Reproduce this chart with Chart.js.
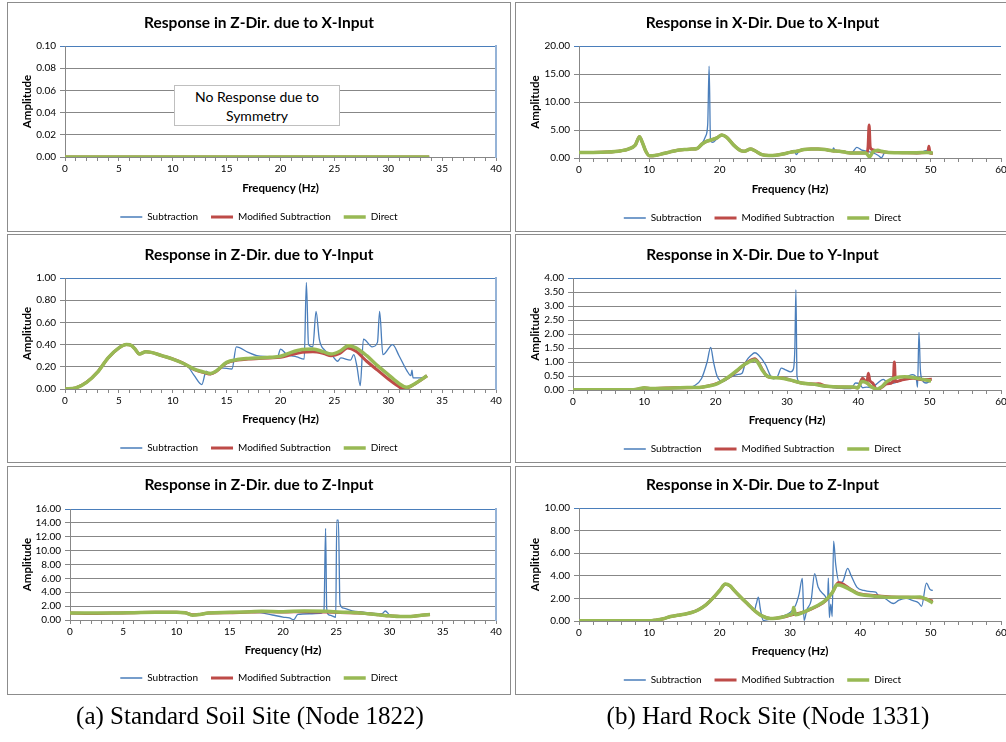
<!DOCTYPE html>
<html>
<head>
<meta charset="utf-8">
<script src="https://cdn.jsdelivr.net/npm/chart.js@4.4.1/dist/chart.umd.min.js"></script>
<style>
  html, body { margin: 0; padding: 0; background: #fff; width: 1006px; height: 742px; overflow: hidden; position: relative; }
  .panel { position: absolute; border: 1px solid #8c8c8c; box-sizing: border-box; background: #fff; }
  canvas { position: absolute; }
  .note { position: absolute; left: 174px; top: 85px; width: 166px; height: 41px; box-sizing: border-box;
          border: 1px solid #bfbfbf; background: #fff; font: 14px Lato, sans-serif; color: #000;
          text-align: center; line-height: 19px; padding-top: 1px; }
  .caption { position: absolute; top: 702px; font: 25px "Liberation Serif", serif; color: #000; white-space: nowrap; transform: translateX(-50%); }
</style>
</head>
<body>
<div class="panel" style="left:7px;top:2px;width:504px;height:230px"></div>
<div class="panel" style="left:515px;top:2px;width:495px;height:230px"></div>
<div class="panel" style="left:7px;top:234px;width:504px;height:229px"></div>
<div class="panel" style="left:515px;top:234px;width:495px;height:229px"></div>
<div class="panel" style="left:7px;top:466px;width:504px;height:229px"></div>
<div class="panel" style="left:515px;top:466px;width:495px;height:229px"></div>

<script>
// ---- data ----
const seriesNames = ['Subtraction', 'Modified Subtraction', 'Direct'];

// (a) Z-Dir due to X-Input: no response
const zxFreq = [0, 10, 20, 33.8];
const zxSub = [0, 0, 0, 0];
const zxMod = [0, 0, 0, 0];
const zxDir = [0, 0, 0, 0];

// (a) Z-Dir due to Y-Input
const zyDirFreq = [0, 1, 2, 3, 4, 5, 5.7, 6.2, 6.5, 6.9, 7.5, 8, 9, 10, 11, 12, 13, 13.5, 14, 15, 16, 17, 18, 19, 20, 21, 22, 23, 24, 24.7, 25.5, 26.3, 27, 28, 29, 30, 31, 31.7, 32.5, 33.6];
const zyDir = [0, 0.01, 0.06, 0.15, 0.28, 0.37, 0.40, 0.39, 0.36, 0.315, 0.335, 0.33, 0.30, 0.27, 0.23, 0.18, 0.15, 0.14, 0.16, 0.24, 0.265, 0.275, 0.28, 0.285, 0.295, 0.33, 0.355, 0.36, 0.335, 0.315, 0.34, 0.39, 0.37, 0.30, 0.21, 0.13, 0.05, 0.015, 0.05, 0.12];
const zyModFreq = [0, 1, 2, 3, 4, 5, 5.7, 6.2, 6.5, 6.9, 7.5, 8, 9, 10, 11, 12, 13, 13.5, 14, 15, 16, 17, 18, 19, 20, 21, 22, 23, 24, 24.7, 25.5, 26.2, 27, 28, 29, 30, 31, 31.3, 32, 33, 33.6];
const zyMod = [0, 0.01, 0.06, 0.15, 0.28, 0.37, 0.40, 0.39, 0.36, 0.315, 0.335, 0.33, 0.30, 0.27, 0.23, 0.175, 0.145, 0.135, 0.155, 0.235, 0.26, 0.27, 0.275, 0.28, 0.285, 0.31, 0.33, 0.335, 0.32, 0.30, 0.32, 0.37, 0.34, 0.25, 0.17, 0.09, 0.02, 0.003, 0.02, 0.08, 0.12];
const zySubFreq = [0, 1, 2, 3, 4, 5, 5.7, 6.2, 6.5, 6.9, 7.5, 8, 9, 10, 11, 11.5, 12, 12.7, 13.1, 13.5, 14.5, 15.5, 15.9, 17, 17.8, 19, 19.7, 20, 20.6, 21.5, 22.2, 22.4, 22.6, 23, 23.3, 23.6, 24.1, 24.8, 25.3, 25.6, 26.5, 26.8, 27.1, 27.4, 27.7, 28.5, 29.0, 29.2, 29.5, 30.4, 31.0, 31.7, 32.1, 32.2, 32.3, 33.0, 33.6];
const zySub = [0, 0.01, 0.06, 0.15, 0.28, 0.37, 0.40, 0.39, 0.36, 0.315, 0.335, 0.33, 0.30, 0.27, 0.23, 0.19, 0.12, 0.04, 0.16, 0.13, 0.19, 0.18, 0.38, 0.33, 0.30, 0.29, 0.28, 0.36, 0.31, 0.29, 0.27, 0.96, 0.40, 0.38, 0.70, 0.45, 0.35, 0.30, 0.25, 0.28, 0.26, 0.31, 0.20, 0.03, 0.45, 0.38, 0.42, 0.70, 0.31, 0.40, 0.30, 0.17, 0.12, 0.17, 0.10, 0.10, 0.12];

// (a) Z-Dir due to Z-Input
const zzFreq = [0, 2, 4, 6, 8, 10, 10.8, 11.5, 12.2, 13, 15, 17, 18, 20, 22, 24, 26, 27, 28, 29, 30, 31, 32, 33, 33.8];
const zzDir = [1.0, 1.0, 1.0, 1.05, 1.1, 1.1, 1.05, 0.7, 0.8, 1.0, 1.1, 1.2, 1.25, 1.2, 1.3, 1.25, 1.1, 1.05, 0.9, 0.75, 0.6, 0.5, 0.5, 0.7, 0.8];
const zzMod = [1.0, 0.95, 1.0, 1.05, 1.1, 1.1, 1.05, 0.75, 0.8, 1.0, 1.05, 1.15, 1.2, 1.15, 1.2, 1.15, 1.05, 1.0, 0.9, 0.75, 0.6, 0.5, 0.5, 0.7, 0.8];
const zzSubFreq = [0, 2, 4, 6, 8, 10, 10.8, 11.5, 12.2, 13, 15, 17, 17.8, 19, 20, 20.6, 21.0, 21.4, 22.5, 23.5, 23.85, 24.0, 24.1, 24.25, 24.6, 24.95, 25.05, 25.2, 25.35, 25.7, 26.5, 27.5, 28.5, 29.3, 29.6, 30, 31, 32, 33, 33.8];
const zzSub = [1.0, 1.0, 1.0, 1.05, 1.1, 1.1, 1.05, 0.7, 0.8, 1.0, 1.1, 1.1, 1.06, 0.72, 0.43, 0.3, 0.05, 0.8, 0.9, 0.95, 1.5, 13.2, 1.8, 0.8, 0.6, 0.4, 14.4, 14.4, 2.3, 1.7, 1.3, 1.15, 0.95, 0.9, 1.3, 0.75, 0.5, 0.5, 0.7, 0.8];

// (b) X-Dir due to X-Input
const xxDirFreq = [0, 2, 4, 6, 7, 8, 8.6, 9.0, 9.5, 10, 11, 12, 13, 14, 15, 16, 16.8, 17.5, 18.2, 19, 19.6, 20.3, 21, 22, 23, 23.5, 24.4, 25, 26, 27, 28, 29, 30, 31, 32, 33, 34, 35, 36, 37, 38, 39, 40, 40.8, 41.3, 41.8, 42.5, 43, 44, 46, 48, 49.5, 50.3];
const xxDir = [1.0, 1.0, 1.05, 1.3, 1.6, 2.3, 3.8, 2.8, 1.2, 0.4, 0.5, 0.8, 1.1, 1.4, 1.5, 1.6, 1.7, 2.5, 3.0, 3.3, 3.6, 4.1, 3.7, 2.3, 1.3, 1.2, 1.6, 1.3, 0.6, 0.45, 0.5, 0.7, 1.0, 1.2, 1.5, 1.6, 1.6, 1.5, 1.3, 1.2, 1.0, 0.9, 0.9, 0.9, 0.2, 1.1, 1.4, 1.2, 1.0, 0.95, 0.95, 1.0, 0.9];
const xxModFreq = [0, 2, 4, 6, 7, 8, 8.6, 9.0, 9.5, 10, 11, 12, 13, 14, 15, 16, 16.8, 17.5, 18.2, 19, 19.6, 20.3, 21, 22, 23, 23.5, 24.4, 25, 26, 27, 28, 29, 30, 31, 32, 33, 34, 35, 36, 37, 38, 39, 40, 40.9, 41.1, 41.25, 41.4, 41.7, 42.5, 43, 44, 46, 48, 49.4, 49.6, 49.75, 49.9, 50.3];
const xxMod = [1.0, 1.0, 1.05, 1.3, 1.6, 2.3, 3.8, 2.8, 1.2, 0.4, 0.5, 0.8, 1.1, 1.4, 1.5, 1.6, 1.7, 2.5, 3.0, 3.3, 3.6, 4.1, 3.7, 2.3, 1.3, 1.2, 1.6, 1.3, 0.6, 0.45, 0.5, 0.7, 1.0, 1.2, 1.5, 1.6, 1.6, 1.5, 1.3, 1.2, 1.0, 0.9, 0.9, 0.9, 2.0, 5.9, 2.0, 1.5, 1.2, 1.1, 1.0, 0.95, 0.9, 1.0, 1.0, 2.1, 0.9, 0.8];
const xxSubFreq = [0, 2, 4, 6, 7, 8, 8.6, 9.0, 9.5, 10, 11, 12, 13, 14, 15, 16, 16.8, 17.5, 18.0, 18.3, 18.5, 18.7, 19.0, 19.6, 20.3, 21, 22, 23, 23.5, 24.4, 25, 26, 27, 28, 29, 30, 30.6, 30.9, 31.3, 32, 33, 34, 35, 36, 36.2, 36.4, 37, 38, 38.8, 39.5, 40.2, 41, 41.8, 42.5, 43.0, 43.5, 44, 46, 48, 49, 49.8, 50.3];
const xxSub = [1.0, 1.0, 1.05, 1.3, 1.6, 2.3, 3.8, 2.8, 1.2, 0.4, 0.5, 0.8, 1.1, 1.4, 1.5, 1.6, 1.7, 2.6, 3.9, 6.0, 16.4, 3.0, 2.8, 3.4, 4.1, 3.7, 2.3, 1.3, 1.2, 1.6, 1.3, 0.6, 0.45, 0.5, 0.8, 1.1, 1.35, 0.6, 1.3, 1.5, 1.6, 1.6, 1.5, 1.3, 1.8, 1.3, 1.2, 1.0, 1.0, 1.9, 1.4, 1.2, 0.9, 0.5, 0.05, 1.0, 1.05, 0.95, 0.8, 1.2, 1.4, 0.8];

// (b) X-Dir due to Y-Input
const xyDirFreq = [0, 4, 8, 9, 10, 11, 13, 15, 17, 18, 19, 20, 21, 22, 23, 23.9, 24.5, 25.5, 26, 26.5, 27.2, 27.8, 29, 30.4, 32, 33.7, 35.6, 37.5, 39.3, 39.9, 40.5, 41.2, 41.8, 42.6, 43.3, 44, 45.4, 46.5, 47.7, 49, 50.2];
const xyDir = [0.01, 0.01, 0.01, 0.03, 0.08, 0.05, 0.06, 0.08, 0.09, 0.10, 0.14, 0.20, 0.33, 0.50, 0.70, 0.89, 0.98, 1.07, 0.95, 0.72, 0.50, 0.45, 0.43, 0.36, 0.25, 0.21, 0.13, 0.11, 0.11, 0.07, 0.30, 0.25, 0.12, 0.03, 0.12, 0.30, 0.45, 0.47, 0.45, 0.38, 0.32];
const xyModFreq = [0, 4, 8, 9, 10, 11, 13, 15, 17, 18, 19, 20, 21, 22, 23, 23.9, 24.5, 25.5, 26, 26.5, 27.2, 27.8, 29, 30.4, 32, 33.7, 34.4, 35.6, 37.5, 39.3, 39.9, 40.6, 41.2, 41.4, 41.6, 42, 42.6, 43.3, 44, 44.9, 45.05, 45.2, 46, 47.7, 49, 50.3];
const xyMod = [0.01, 0.01, 0.0, 0.03, 0.07, 0.05, 0.07, 0.08, 0.09, 0.10, 0.15, 0.22, 0.33, 0.48, 0.68, 0.88, 1.0, 1.12, 0.98, 0.75, 0.5, 0.45, 0.45, 0.36, 0.25, 0.21, 0.22, 0.13, 0.11, 0.10, 0.07, 0.42, 0.25, 0.60, 0.35, 0.25, 0.0, 0.10, 0.22, 0.30, 1.0, 0.30, 0.35, 0.42, 0.37, 0.38];
const xySubFreq = [0, 4, 8, 10, 13, 16, 17, 18, 18.8, 19.3, 19.7, 20.2, 21, 22, 23, 23.7, 24.2, 25, 25.5, 26, 27, 27.6, 28.1, 28.7, 29.2, 29.8, 30.5, 30.9, 31.1, 31.25, 31.4, 31.7, 32.5, 34, 35, 36, 37, 38, 39, 39.6, 40.2, 40.6, 41.2, 41.8, 42.5, 43.5, 44.2, 45, 46, 47, 47.6, 48.1, 48.3, 48.5, 48.7, 49, 49.5, 50];
const xySub = [0.01, 0.01, 0.02, 0.05, 0.05, 0.06, 0.15, 0.40, 1.0, 1.52, 1.0, 0.5, 0.3, 0.45, 0.55, 0.6, 1.0, 1.25, 1.33, 1.25, 0.9, 0.55, 0.40, 0.50, 0.78, 0.72, 0.65, 0.75, 1.5, 3.58, 0.5, 0.3, 0.22, 0.18, 0.12, 0.10, 0.07, 0.05, 0.05, 0.25, 0.22, 0.08, 0.10, 0.08, 0.2, 0.38, 0.25, 0.25, 0.35, 0.5, 0.55, 0.45, 0.10, 2.06, 0.7, 0.35, 0.25, 0.30];

// (b) X-Dir due to Z-Input
const xzDirFreq = [0, 5, 10, 11, 12, 13, 14, 15, 16, 17, 18, 19, 20, 20.8, 21.5, 22, 23, 24, 25, 26, 27.2, 28, 29, 30, 30.4, 30.5, 30.8, 32, 33, 34, 35, 36, 36.7, 37.5, 38.5, 39.5, 40, 42, 44, 46, 48.5, 49.3, 50.3];
const xzDir = [0.02, 0.02, 0.02, 0.1, 0.2, 0.4, 0.5, 0.6, 0.75, 1.0, 1.4, 2.0, 2.7, 3.27, 3.1, 2.75, 2.1, 1.5, 0.9, 0.45, 0.22, 0.25, 0.35, 0.55, 0.7, 1.2, 0.55, 0.8, 1.1, 1.4, 1.8, 2.5, 3.2, 3.1, 2.8, 2.45, 2.35, 2.2, 2.1, 2.1, 2.12, 1.95, 1.6];
const xzModFreq = [0, 5, 10, 11, 12, 13, 14, 15, 16, 17, 18, 19, 20, 20.8, 21.5, 22, 23, 24, 25, 26, 27.2, 28, 29, 30, 31, 32, 33, 34, 35, 36, 36.9, 37.7, 38.5, 39.5, 40, 42, 44, 46, 48.5, 49.3, 50.3];
const xzMod = [0.02, 0.02, 0.02, 0.1, 0.2, 0.4, 0.5, 0.6, 0.75, 1.0, 1.4, 2.0, 2.7, 3.25, 3.1, 2.75, 2.1, 1.5, 0.9, 0.45, 0.22, 0.25, 0.35, 0.5, 0.65, 0.8, 1.05, 1.35, 1.75, 2.5, 3.4, 3.2, 2.85, 2.5, 2.4, 2.25, 2.15, 2.1, 2.05, 1.95, 1.75];
const xzSubFreq = [0, 5, 10, 11, 12, 13, 14, 15, 16, 17, 18, 19, 20, 20.8, 21.5, 22, 23, 24, 24.9, 25.2, 25.5, 25.8, 26.2, 27, 28, 29, 30, 30.8, 31.3, 31.75, 32.0, 32.4, 33, 33.5, 34, 35, 35.35, 35.45, 35.6, 35.8, 36.0, 36.2, 36.5, 37, 37.5, 38.2, 38.7, 39.5, 40.5, 41.5, 42.2, 42.6, 43.5, 44.7, 45.5, 46.5, 47.5, 48.3, 48.7, 49.4, 49.9, 50.3];
const xzSub = [0.02, 0.02, 0.02, 0.1, 0.2, 0.4, 0.5, 0.6, 0.75, 1.0, 1.4, 2.0, 2.7, 3.27, 3.1, 2.75, 2.1, 1.5, 0.9, 1.5, 2.1, 1.0, 0.05, 0.15, 0.25, 0.45, 0.75, 1.4, 2.4, 3.77, 0.05, 1.0, 1.8, 4.2, 3.0, 2.2, 1.8, 3.8, 0.3, 1.5, 0.4, 7.06, 5.0, 3.4, 3.5, 4.66, 4.0, 3.0, 2.7, 2.6, 2.55, 2.2, 2.0, 1.55, 1.85, 2.0, 1.8, 1.6, 1.3, 3.35, 2.8, 2.7];

// ---- styling ----
const BLUE = '#4A7EBB';
const RED = '#BE4B48';
const GREEN = '#98B954';
const GRID = '#878787';
const FONT = 'Lato, sans-serif';
const lineStyles = [
  { color: BLUE, width: 1.3, order: 3 },
  { color: RED, width: 3, order: 2 },
  { color: GREEN, width: 3.5, order: 1 }
];

Chart.defaults.font.family = FONT;
Chart.defaults.color = '#000';

const panels = [
  { title: 'Response in Z-Dir. due to X-Input', box: [7, 2, 504, 230], plot: [65, 496, 46, 157],
    titleY: 23, xTitleY: 188, legendY: 217, yTitleX: 27, yMax: 0.10, yStep: 0.02, xMax: 40, xMinor: 1, xMajor: 5, edge: true,
    series: [[zxFreq, zxSub], [zxFreq, zxMod], [zxFreq, zxDir]] },
  { title: 'Response in X-Dir. Due to X-Input', box: [515, 2, 495, 230], plot: [579, 1001, 46, 158],
    titleY: 23, xTitleY: 189, legendY: 218, yTitleX: 535, yMax: 20, yStep: 5, xMax: 60, xMinor: 2, xMajor: 10, edge: false,
    series: [[xxSubFreq, xxSub], [xxModFreq, xxMod], [xxDirFreq, xxDir]] },
  { title: 'Response in Z-Dir. due to Y-Input', box: [7, 234, 504, 229], plot: [65, 496, 278, 389],
    titleY: 255, xTitleY: 419, legendY: 448, yTitleX: 27, yMax: 1.0, yStep: 0.2, xMax: 40, xMinor: 1, xMajor: 5, edge: true,
    series: [[zySubFreq, zySub], [zyModFreq, zyMod], [zyDirFreq, zyDir]] },
  { title: 'Response in X-Dir. Due to Y-Input', box: [515, 234, 495, 229], plot: [573, 1001, 278, 390],
    titleY: 255, xTitleY: 420, legendY: 449, yTitleX: 535, yMax: 4, yStep: 0.5, xMax: 60, xMinor: 2, xMajor: 10, edge: false,
    series: [[xySubFreq, xySub], [xyModFreq, xyMod], [xyDirFreq, xyDir]] },
  { title: 'Response in Z-Dir. due to Z-Input', box: [7, 466, 504, 229], plot: [70, 496, 509, 620],
    titleY: 485, xTitleY: 650, legendY: 678, yTitleX: 27, yMax: 16, yStep: 2, xMax: 40, xMinor: 1, xMajor: 5, edge: true,
    series: [[zzSubFreq, zzSub], [zzFreq, zzMod], [zzFreq, zzDir]] },
  { title: 'Response in X-Dir. Due to Z-Input', box: [515, 466, 495, 229], plot: [579, 1001, 508, 621],
    titleY: 485, xTitleY: 651, legendY: 680, yTitleX: 535, yMax: 10, yStep: 2, xMax: 60, xMinor: 2, xMajor: 10, edge: false,
    series: [[xzSubFreq, xzSub], [xzModFreq, xzMod], [xzDirFreq, xzDir]] }
];

function build(p) {
  const cx = p.box[0] + 1, cy = p.box[1] + 1;
  const cw = p.box[2] - 2, ch = p.box[3] - 2 + 16;
  const canvas = document.createElement('canvas');
  canvas.width = cw;
  canvas.height = ch;
  canvas.style.left = cx + 'px';
  canvas.style.top = cy + 'px';
  canvas.style.width = cw + 'px';
  canvas.style.height = ch + 'px';
  document.body.appendChild(canvas);

  const titleSize = 15.5, titleLH = titleSize * 1.2;
  const tickSize = 10;
  const axSize = 11.5, axLH = axSize * 1.2;
  const legSize = 10, legPad = 13;

  // everything below in canvas coordinates
  const pl = p.plot[0] - cx, pr = p.plot[1] - cx, pt = p.plot[2] - cy, pb = p.plot[3] - cy;
  const tPadTop = (p.titleY - cy) - titleLH / 2;
  const tPadBot = pt - titleLH - tPadTop;
  const xTitlePadBot = p.legendY - (p.xTitleY + axLH / 2 + legPad + legSize / 2);
  const xH = (p.xTitleY - cy) + axLH / 2 + xTitlePadBot - pb;
  const legendTop = pb + xH;
  const legendH = legSize + legPad + 10;
  const bottomPad = Math.max(0, ch - legendTop - legendH);
  const yTitlePad = (p.yTitleX - cx) - axLH / 2;

  const datasets = p.series.map((s, i) => ({
    label: seriesNames[i],
    data: s[0].map((f, k) => ({ x: f, y: s[1][k] })),
    borderColor: lineStyles[i].color,
    backgroundColor: lineStyles[i].color,
    borderWidth: lineStyles[i].width,
    order: lineStyles[i].order,
    pointRadius: 0,
    fill: false,
    cubicInterpolationMode: 'monotone',
    xAxisID: 'x',
    yAxisID: 'y'
  }));

  new Chart(canvas, {
    type: 'line',
    data: { datasets },
    options: {
      responsive: false,
      animation: false,
      devicePixelRatio: 1,
      events: [],
      layout: { padding: { left: 0, right: 0, top: 0, bottom: bottomPad } },
      plugins: {
        title: {
          display: true, text: p.title, color: '#000',
          font: { family: FONT, size: titleSize, weight: 'bold' },
          padding: { top: tPadTop, bottom: tPadBot }
        },
        legend: {
          position: 'bottom',
          labels: {
            boxWidth: 22, boxHeight: 0, padding: legPad, color: '#000',
            font: { family: FONT, size: legSize },
            sort: (a, b) => a.datasetIndex - b.datasetIndex
          }
        },
        tooltip: { enabled: false }
      },
      scales: {
        x: {
          type: 'linear', position: 'bottom', min: 0, max: p.xMax,
          ticks: {
            stepSize: p.xMinor, autoSkip: false, maxRotation: 0, padding: 2, color: '#000',
            font: { family: FONT, size: tickSize },
            callback: v => (v % p.xMajor === 0 ? String(v) : '')
          },
          grid: { drawOnChartArea: false, tickLength: 4, color: GRID },
          border: { color: GRID },
          title: {
            display: true, text: 'Frequency (Hz)', color: '#000',
            font: { family: FONT, size: axSize, weight: 'bold' },
            padding: { top: 0, bottom: xTitlePadBot }
          },
          afterFit: s => { s.height = xH; }
        },
        y: {
          type: 'linear', position: 'left', min: 0, max: p.yMax,
          ticks: {
            stepSize: p.yStep, autoSkip: false, padding: 4, color: '#000',
            font: { family: FONT, size: tickSize },
            callback: v => v.toFixed(2)
          },
          grid: {
            tickLength: 5,
            color: c => (c.tick && Math.abs(c.tick.value - p.yMax) < 1e-9 ? BLUE : GRID)
          },
          border: { color: GRID },
          title: {
            display: true, text: 'Amplitude', color: '#000',
            font: { family: FONT, size: axSize, weight: 'bold' },
            padding: { top: yTitlePad, bottom: 0 }
          },
          afterFit: s => { s.width = pl; }
        },
        yEdge: {
          type: 'linear', axis: 'y', position: 'right', display: true,
          ticks: { display: false },
          grid: { display: false },
          border: { display: p.edge, color: '#95B3D7', width: 2 },
          afterFit: s => { s.width = cw - pr; }
        }
      }
    }
  });
}

panels.forEach(build);
</script>

<div class="note">No Response due to<br>Symmetry</div>
<div class="caption" style="left:250px">(a) Standard Soil Site (Node 1822)</div>
<div class="caption" style="left:768px">(b) Hard Rock Site (Node 1331)</div>
</body>
</html>
